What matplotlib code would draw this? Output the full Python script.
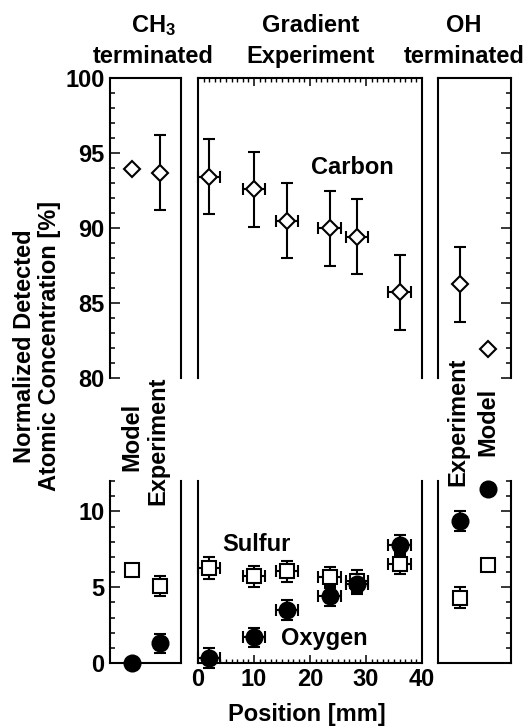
import matplotlib
matplotlib.use('Agg')
import matplotlib.pyplot as plt
from matplotlib.ticker import MultipleLocator, NullLocator

plt.rcParams['font.family'] = ['Liberation Sans', 'DejaVu Sans']
plt.rcParams['font.weight'] = 'bold'
plt.rcParams['mathtext.fontset'] = 'custom'
plt.rcParams['mathtext.rm'] = 'Liberation Sans:bold'
plt.rcParams['mathtext.it'] = 'Liberation Sans:bold'
plt.rcParams['mathtext.bf'] = 'Liberation Sans:bold'

# ---------------- data ----------------
grad_position = [2.0, 10.0, 15.9, 23.5, 28.4, 36.0]
grad_position_err = [2.0, 2.0, 2.0, 2.0, 2.0, 2.0]
grad_carbon = [93.4, 92.6, 90.5, 90.0, 89.4, 85.7]
grad_carbon_err = [2.5, 2.5, 2.5, 2.5, 2.5, 2.5]
grad_sulfur = [6.27, 5.72, 6.05, 5.66, 5.4, 6.56]
grad_sulfur_err = [0.7, 0.7, 0.7, 0.7, 0.7, 0.7]
grad_oxygen = [0.31, 1.69, 3.49, 4.41, 5.2, 7.76]
grad_oxygen_err = [0.65, 0.65, 0.65, 0.65, 0.65, 0.65]

ch3_labels = ['Model', 'Experiment']
ch3_carbon = [93.9, 93.7]
ch3_carbon_err = [None, 2.5]
ch3_sulfur = [6.1, 5.07]
ch3_sulfur_err = [None, 0.65]
ch3_oxygen = [0.0, 1.29]
ch3_oxygen_err = [None, 0.65]

oh_labels = ['Experiment', 'Model']
oh_carbon = [86.25, 81.9]
oh_carbon_err = [2.5, None]
oh_sulfur = [4.29, 6.49]
oh_sulfur_err = [0.69, None]
oh_oxygen = [9.36, 11.49]
oh_oxygen_err = [0.68, None]

carbon_ticks = [80, 85, 90, 95, 100]
minor_ticks_low = [0, 5, 10]
position_ticks = [0, 10, 20, 30, 40]

# ---------------- layout ----------------
W, H = 528, 726
fig = plt.figure(figsize=(W / 100, H / 100), dpi=100)


def px_rect(x0, x1, y0, y1):
    return [x0 / W, 1 - y1 / H, (x1 - x0) / W, (y1 - y0) / H]


cols = [(110, 181), (198, 422), (438, 511)]
rows = [(78, 378), (481, 663)]
side_pos_left = [0.31, 0.70]
side_pos_right = [0.30, 0.68]

axes = {}
for r, (y0, y1) in enumerate(rows):
    for c, (x0, x1) in enumerate(cols):
        axes[(r, c)] = fig.add_axes(px_rect(x0, x1, y0, y1))

LW = 1.5
FS = 17
for (r, c), ax in axes.items():
    for s in ax.spines.values():
        s.set_linewidth(LW)
    if r == 0:
        ax.spines['bottom'].set_visible(False)
        ax.set_ylim(80, 100)
    else:
        ax.spines['top'].set_visible(False)
        ax.set_ylim(0, 12)
    if c == 1:
        ax.set_xlim(0, 40)
        ax.yaxis.set_major_locator(NullLocator())
        ax.xaxis.set_major_locator(MultipleLocator(10))
        ax.xaxis.set_minor_locator(MultipleLocator(1))
        if r == 0:
            ax.xaxis.tick_top()
            ax.tick_params(axis='x', which='both', labeltop=False)
        else:
            ax.xaxis.tick_bottom()
            ax.set_xticks(position_ticks)
        ax.tick_params(axis='x', which='major', direction='in', length=5.5, width=1.1,
                       labelsize=FS, pad=3.5)
        ax.tick_params(axis='x', which='minor', direction='in', length=3, width=1.0)
    else:
        ax.set_xlim(0, 1)
        ax.xaxis.set_major_locator(NullLocator())
        ax.xaxis.set_minor_locator(NullLocator())
        if r == 0:
            ax.set_yticks(carbon_ticks)
        else:
            ax.set_yticks(minor_ticks_low)
        ax.yaxis.set_minor_locator(MultipleLocator(1))
        if c == 0:
            ax.yaxis.tick_left()
        else:
            ax.yaxis.tick_right()
            ax.tick_params(axis='y', which='both', labelright=False)
        ax.tick_params(axis='y', which='major', direction='in', length=7, width=1.1,
                       labelsize=FS, pad=4)
        ax.tick_params(axis='y', which='minor', direction='in', length=3.5, width=1.1)
    ax.patch.set_visible(False)

eb_kw = dict(ecolor='k', elinewidth=LW, capsize=4.3, capthick=LW, linestyle='none',
             mec='k', mew=LW, clip_on=False, zorder=5)
mk = {'C': dict(marker='D', ms=8, mfc='white'),
      'S': dict(marker='s', ms=10.5, mfc='white'),
      'O': dict(marker='o', ms=11.5, mfc='black')}

# gradient
axes[(0, 1)].errorbar(grad_position, grad_carbon, yerr=grad_carbon_err, xerr=grad_position_err,
                      **mk['C'], **eb_kw)
axes[(1, 1)].errorbar(grad_position, grad_sulfur, yerr=grad_sulfur_err, xerr=grad_position_err,
                      **mk['S'], **eb_kw)
axes[(1, 1)].errorbar(grad_position, grad_oxygen, yerr=grad_oxygen_err, xerr=grad_position_err,
                      **mk['O'], **eb_kw)


def side(ax, xs, vals, errs, key):
    for x, v, e in zip(xs, vals, errs):
        if e is None:
            ax.plot([x], [v], linestyle='none', mec='k', mew=LW, clip_on=False, zorder=5, **mk[key])
        else:
            ax.errorbar([x], [v], yerr=[e], **mk[key], **eb_kw)


side(axes[(0, 0)], side_pos_left, ch3_carbon, ch3_carbon_err, 'C')
side(axes[(1, 0)], side_pos_left, ch3_sulfur, ch3_sulfur_err, 'S')
side(axes[(1, 0)], side_pos_left, ch3_oxygen, ch3_oxygen_err, 'O')
side(axes[(0, 2)], side_pos_right, oh_carbon, oh_carbon_err, 'C')
side(axes[(1, 2)], side_pos_right, oh_sulfur, oh_sulfur_err, 'S')
side(axes[(1, 2)], side_pos_right, oh_oxygen, oh_oxygen_err, 'O')

# series labels
axes[(0, 1)].text(27.5, 93.58, 'Carbon', ha='center', va='baseline', fontsize=FS)
axes[(1, 1)].text(10.5, 7.39, 'Sulfur', ha='center', va='baseline', fontsize=FS)
axes[(1, 1)].text(22.5, 1.18, 'Oxygen', ha='center', va='baseline', fontsize=FS)


def ftext(x, y, s, **kw):
    fig.text(x / W, 1 - y / H, s, fontsize=FS, **kw)


# titles
ftext(153, 32, r'CH$_{3}$', ha='center', va='baseline')
ftext(153, 63, 'terminated', ha='center', va='baseline')
ftext(311, 32, 'Gradient', ha='center', va='baseline')
ftext(311, 63, 'Experiment', ha='center', va='baseline')
ftext(464, 32, 'OH', ha='center', va='baseline')
ftext(464, 63, 'terminated', ha='center', va='baseline')

# rotated model/experiment labels
ftext(132, 437, ch3_labels[0], rotation=90, ha='center', va='center')
ftext(158, 441, ch3_labels[1], rotation=90, ha='center', va='center')
ftext(458, 422, oh_labels[0], rotation=90, ha='center', va='center')
ftext(488, 422, oh_labels[1], rotation=90, ha='center', va='center')

# axis labels
ftext(37, 346, 'Normalized Detected\nAtomic Concentration [%]', rotation=90,
      ha='center', va='center', multialignment='center', linespacing=1.15)
ftext(307, 721, 'Position [mm]', ha='center', va='baseline')

fig.savefig('out.png', dpi=100)
